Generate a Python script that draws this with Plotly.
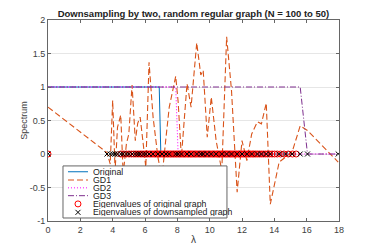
import plotly.graph_objects as go

# Eigenvalues of the original graph (N = 100)
orig_eig = [0.00,
    4.50, 4.69, 4.85, 5.01, 5.16, 5.31, 5.44,
    5.57, 5.70, 5.81, 5.93, 6.05, 6.15, 6.27, 6.37, 6.48, 6.59, 6.68, 6.79, 6.88, 6.98,
    7.08, 7.18, 7.26, 7.36, 7.44, 7.54, 7.62, 7.72, 7.80, 7.90, 7.98, 8.08, 8.16, 8.25,
    8.35, 8.43, 8.52, 8.62, 8.70, 8.80, 8.88, 8.97, 9.07, 9.15, 9.24, 9.34, 9.42, 9.51,
    9.61, 9.69, 9.78, 9.88, 9.96, 10.05, 10.15, 10.23, 10.32, 10.42, 10.50, 10.59, 10.69,
    10.77, 10.86, 10.96, 11.04, 11.13, 11.23, 11.31, 11.40, 11.50, 11.58, 11.67, 11.77,
    11.85, 11.94, 12.04, 12.13, 12.23, 12.34, 12.43, 12.53, 12.64, 12.73, 12.84, 12.95,
    13.07, 13.19, 13.31, 13.44, 13.57, 13.71, 13.86, 14.01, 14.18, 14.38, 14.60, 14.86, 15.12, 15.35]
orig_filter = [1.0 if v < 6.9 else 0.0 for v in orig_eig]

# Eigenvalues of the downsampled graph (N = 50)
ds_eig = [0.00, 3.65, 3.85, 4.00, 4.15, 4.30, 4.50, 4.65, 4.85, 5.00,
          5.20, 5.40, 5.55, 5.70, 5.90, 6.05, 6.25, 6.50, 6.80, 7.05,
          7.30, 7.50, 7.90, 8.05, 8.25, 8.60, 8.85, 9.20, 9.45, 9.60,
          9.85, 10.10, 10.40, 10.75, 11.05, 11.35, 11.70, 12.00, 12.30, 12.60,
          12.95, 13.20, 13.50, 13.75, 14.30, 14.70, 15.10, 15.60, 16.05, 17.95]
gd1 = [0.70, 0.02, -0.15, 0.80, -0.25, 0.40, 0.58, -0.30, 0.15, 0.30,
       1.03, 0.20, 0.46, 0.55, 0.13, -0.20, 1.37, 0.55, -0.05, -0.35,
       0.25, 0.70, 1.16, 0.78, -0.05, 1.05, 0.70, 1.66, 1.18, 1.25,
       0.25, 0.85, 0.20, -0.25, 1.75, 0.95, -0.57, 0.20, -0.10, 0.30,
       0.48, 0.45, 0.76, -0.75, -0.12, -0.05, 0.03, 0.42, 0.35, -0.12]
gd2 = [1.0 if v < 7.95 else 0.0 for v in ds_eig]
gd3 = [1.0 if v < 15.8 else 0.0 for v in ds_eig]

x_ticks = [0, 2, 4, 6, 8, 10, 12, 14, 16, 18]
y_ticks = [-1, -0.5, 0, 0.5, 1, 1.5, 2]
y_ticklabels = ["-1", "-0.5", "0", "0.5", "1", "1.5", "2"]

legend_names = ["Original", "GD1", "GD2", "GD3",
                "Eigenvalues of original graph", "Eigenvalues of downsampled graph"]

C_ORIG = "#0072BD"
C_GD1 = "#D95319"
C_GD2 = "#FF00FF"
C_GD3 = "#7E2F8E"
DASH_GD1 = "6px,3px"
DASH_GD2 = "1px,2px"
DASH_GD3 = "6px,2px,1px,2px"
FONT = "Liberation Sans, Arial, Helvetica"

fig = go.Figure()
fig.add_trace(go.Scatter(x=orig_eig, y=orig_filter, mode="lines", name=legend_names[0],
                         line=dict(color=C_ORIG, width=1)))
fig.add_trace(go.Scatter(x=ds_eig, y=gd1, mode="lines", name=legend_names[1],
                         line=dict(color=C_GD1, width=1.1, dash=DASH_GD1)))
fig.add_trace(go.Scatter(x=ds_eig, y=gd2, mode="lines", name=legend_names[2],
                         line=dict(color=C_GD2, width=1, dash=DASH_GD2)))
fig.add_trace(go.Scatter(x=ds_eig, y=gd3, mode="lines", name=legend_names[3],
                         line=dict(color=C_GD3, width=1, dash=DASH_GD3)))
fig.add_trace(go.Scatter(x=orig_eig, y=[0] * len(orig_eig), mode="markers",
                         name=legend_names[4],
                         marker=dict(symbol="circle-open", color="#FF0000", size=6,
                                     line=dict(width=1, color="#FF0000"))))
fig.add_trace(go.Scatter(x=ds_eig, y=[0] * len(ds_eig), mode="markers",
                         name=legend_names[5],
                         marker=dict(symbol="x-thin-open", color="#000000", size=5,
                                     line=dict(width=1, color="#000000"))))

axis_common = dict(showline=True, linecolor="#666666", linewidth=1, mirror="ticks",
                   ticks="inside", ticklen=3, tickcolor="#666666", zeroline=False,
                   automargin=False,
                   tickfont=dict(family=FONT, size=9, color="#404040"))

# ---- hand-built legend (MATLAB style, compact rows) ----
shapes = []
annotations = []
lg_left, lg_right, lg_top, lg_bottom = 0.0515, 0.615, 0.274, 0.015
shapes.append(dict(type="rect", xref="paper", yref="paper", x0=lg_left, x1=lg_right,
                   y0=lg_bottom, y1=lg_top, fillcolor="white",
                   line=dict(color="#666666", width=1), layer="above"))
row_y = [0.245, 0.204, 0.165, 0.126, 0.085, 0.043]
sx0, sx1, mx, tx = 0.0687, 0.1375, 0.103, 0.151
styles = [(C_ORIG, None, 1), (C_GD1, DASH_GD1, 1.1), (C_GD2, DASH_GD2, 1), (C_GD3, DASH_GD3, 1)]
for i, (col, dash, w) in enumerate(styles):
    ln = dict(color=col, width=w)
    if dash:
        ln["dash"] = dash
    shapes.append(dict(type="line", xref="paper", yref="paper", x0=sx0, x1=sx1,
                       y0=row_y[i], y1=row_y[i], line=ln, layer="above"))
rx, ry = 3 / 291, 3 / 201
shapes.append(dict(type="circle", xref="paper", yref="paper", x0=mx - rx, x1=mx + rx,
                   y0=row_y[4] - ry, y1=row_y[4] + ry,
                   line=dict(color="#FF0000", width=1), layer="above"))
hx, hy = 2.5 / 291, 2.5 / 201
for sgn in (1, -1):
    shapes.append(dict(type="line", xref="paper", yref="paper", x0=mx - hx, x1=mx + hx,
                       y0=row_y[5] - sgn * hy, y1=row_y[5] + sgn * hy,
                       line=dict(color="#000000", width=1), layer="above"))
for i, name in enumerate(legend_names):
    annotations.append(dict(xref="paper", yref="paper", x=tx, y=row_y[i], text=name,
                            showarrow=False, xanchor="left", yanchor="middle",
                            height=8, valign="middle", borderpad=0,
                            font=dict(family=FONT, size=8.8, color="#222222")))

# The page body has an 8px default margin, so the figure is 8px smaller and offset.
fig.update_layout(
    width=366, height=242,
    margin=dict(l=40, r=35, t=12, b=29, autoexpand=False),
    paper_bgcolor="white", plot_bgcolor="white",
    showlegend=False,
    title=dict(text="<b>Downsampling by two, random regular graph (N = 100 to 50)</b>",
               x=0.5, xref="paper", y=0.978, yref="container", yanchor="middle",
               automargin=False,
               font=dict(family=FONT, size=9.5, color="#222222")),
    xaxis=dict(range=[0, 18], tickvals=x_ticks, showgrid=False,
               title=dict(text="λ", standoff=2,
                          font=dict(family=FONT, size=10, color="#404040")),
               **axis_common),
    yaxis=dict(range=[-1, 2], tickvals=y_ticks, ticktext=y_ticklabels, showgrid=True,
               gridcolor="#E6E6E6", gridwidth=1,
               title=dict(text="Spectrum", standoff=0,
                          font=dict(family=FONT, size=9, color="#404040")),
               **axis_common),
    shapes=shapes,
    annotations=annotations,
)

fig.write_html("out.html")
